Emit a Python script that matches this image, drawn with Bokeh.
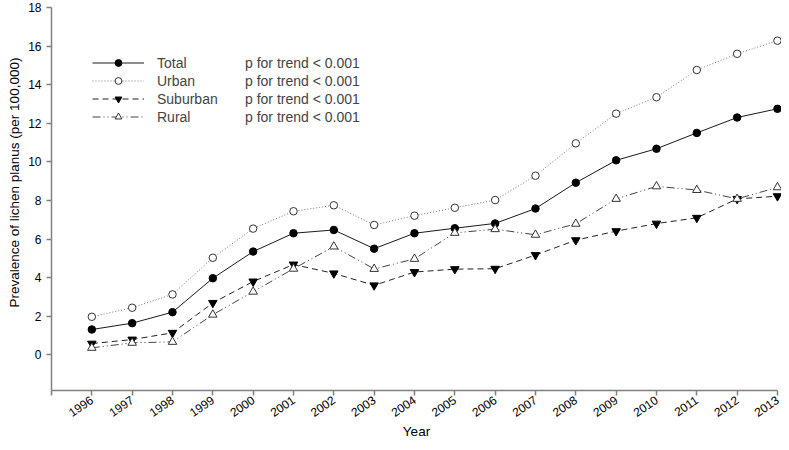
import math
from bokeh.plotting import figure
from bokeh.models import Range1d, FixedTicker, Legend, LegendItem, Title
from bokeh.embed import file_html
from bokeh.resources import INLINE

# ---- data ----
years = list(range(1996, 2014))
total = [1.31, 1.64, 2.21, 3.97, 5.35, 6.30, 6.47, 5.50, 6.30, 6.56, 6.81, 7.58, 8.92, 10.08, 10.68, 11.50, 12.30, 12.75]
urban = [1.97, 2.44, 3.13, 5.03, 6.54, 7.44, 7.75, 6.73, 7.21, 7.62, 8.02, 9.28, 10.96, 12.50, 13.35, 14.76, 15.60, 16.28]
suburban = [0.58, 0.79, 1.14, 2.69, 3.80, 4.68, 4.22, 3.60, 4.29, 4.44, 4.46, 5.17, 5.94, 6.41, 6.80, 7.10, 8.08, 8.22]
rural = [0.36, 0.62, 0.67, 2.08, 3.27, 4.46, 5.61, 4.45, 4.97, 6.32, 6.51, 6.22, 6.79, 8.08, 8.73, 8.54, 8.08, 8.68]
series_names = ["Total", "Urban", "Suburban", "Rural"]
p_texts = ["p for trend < 0.001"] * 4
x_ticks = list(range(1995, 2014))
y_ticks = list(range(0, 20, 2))
x_title = "Year"
y_title = "Prevalence of lichen planus (per 100,000)"

FONT = "Liberation Sans"
AXIS_COL = "#808080"

W, H = 781, 442
MB_L, MB_R, MB_T, MB_B = 49, 0, 7, 51
FRAME_H = H - MB_T - MB_B

p = figure(width=W, height=H, output_backend="svg", toolbar_location=None,
           x_range=Range1d(1995, 2013.1), y_range=Range1d(-1.85, 18),
           min_border_left=MB_L, min_border_right=MB_R,
           min_border_top=MB_T, min_border_bottom=MB_B)
p.outline_line_color = None
p.xgrid.visible = False
p.ygrid.visible = False

xa = p.xaxis[0]
ya = p.yaxis[0]
xa.ticker = FixedTicker(ticks=x_ticks)
xa.major_label_overrides = {x_ticks[0]: ""}
xa.bounds = (x_ticks[0], x_ticks[-1])
xa.major_label_orientation = 0.6
xa.axis_label = x_title
ya.ticker = FixedTicker(ticks=y_ticks)

for ax in (xa, ya):
    ax.axis_line_color = AXIS_COL
    ax.axis_line_width = 1.5
    ax.major_tick_line_color = AXIS_COL
    ax.major_tick_line_width = 1.5
    ax.major_tick_in = 0
    ax.major_tick_out = 5
    ax.minor_tick_line_color = None
    ax.major_label_text_font = FONT
    ax.major_label_text_font_size = "12px"
    ax.major_label_text_color = "black"
    ax.axis_label_text_font = FONT
    ax.axis_label_text_font_size = "13.5px"
    ax.axis_label_text_font_style = "normal"
    ax.axis_label_text_color = "black"
xa.major_label_standoff = 3
xa.axis_label_standoff = 0
ya.major_label_standoff = 5

# y-axis title, placed like the reference (centred on the 0..18 span)
p.add_layout(Title(text=y_title, align="left", offset=83, standoff=8,
                   text_font=FONT, text_font_size="13.5px", text_font_style="normal",
                   text_color="black"), "left")

styles = [
    dict(y=total, color="#1a1a1a", dash="solid", marker="circle", fill="black", edge="black", size=7.5),
    dict(y=urban, color="#777777", dash="1 2", marker="circle", fill="white", edge="#333333", size=7.5),
    dict(y=suburban, color="#222222", dash="6 4", marker="inverted_triangle", fill="black", edge="black", size=8.5),
    dict(y=rural, color="#444444", dash="8 3 1 3 1 3", marker="triangle", fill="white", edge="#333333", size=8.5),
]

items = []
for name, st in zip(series_names, styles):
    lr = p.line(years, st["y"], line_color=st["color"], line_width=1, line_dash=st["dash"])
    sr = p.scatter(years, st["y"], marker=st["marker"], size=st["size"],
                   fill_color=st["fill"], line_color=st["edge"], line_width=1)
    items.append(LegendItem(label=name, renderers=[lr, sr]))

ROW = 17
SP = 1
LEG_X = 41
LEG_TOP = 48
LEG_HEIGHT = 4 * ROW + 3 * SP
LEG_Y = FRAME_H - LEG_TOP - LEG_HEIGHT
common = dict(location=(LEG_X, LEG_Y), margin=0, padding=0,
              border_line_color=None, background_fill_alpha=0,
              glyph_height=ROW, label_height=ROW, spacing=SP,
              label_standoff=13, label_text_font=FONT, label_text_font_size="14px",
              label_text_baseline="middle")
p.add_layout(Legend(items=items, glyph_width=52, **common))

# second column of the legend: p-values (invisible key glyph)
blank = p.line(years, total, line_alpha=0)
p.add_layout(Legend(items=[LegendItem(label=t, renderers=[blank]) for t in p_texts],
                    glyph_width=140, **common))

open("out.html", "w").write(file_html(p, INLINE))
